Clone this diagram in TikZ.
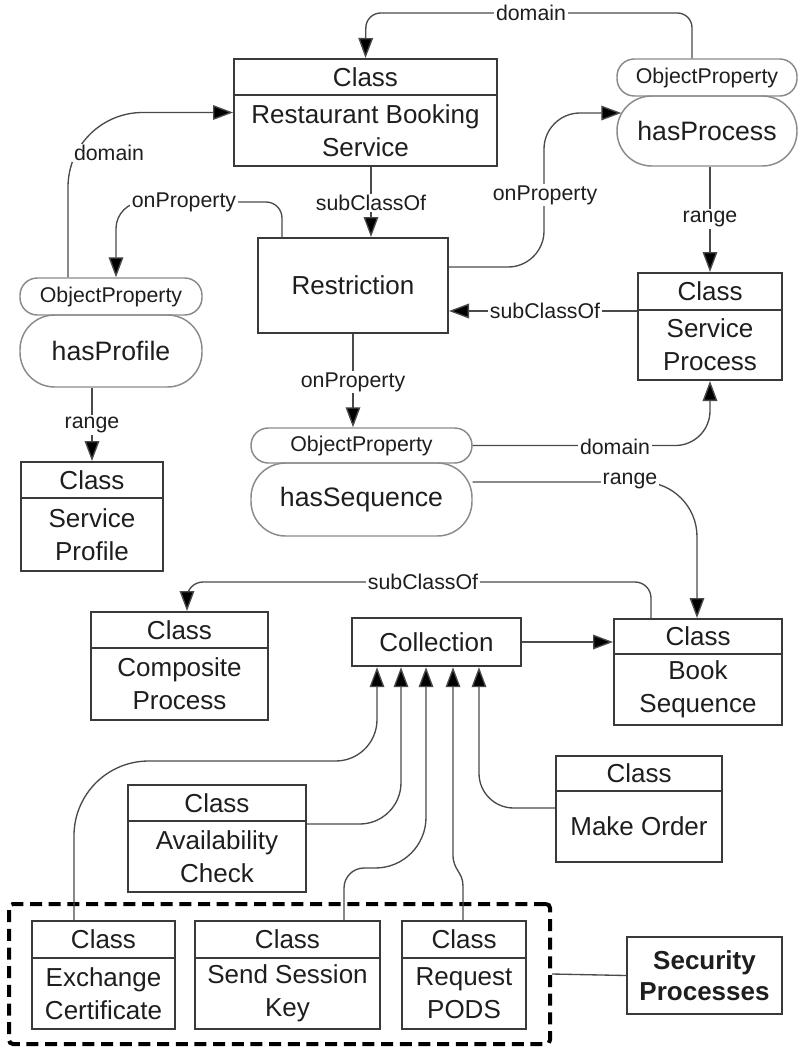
\documentclass[tikz,border=0pt]{standalone}
\usepackage{fontspec}
\setmainfont{Liberation Sans}
\usetikzlibrary{arrows.meta,fit,calc}

\definecolor{ink}{HTML}{1E1E1E}
\definecolor{edgec}{HTML}{3A3A3A}
\definecolor{linkc}{HTML}{4A4A4A}
\definecolor{pillc}{HTML}{8A8A8A}

\tikzset{
  txt/.style={font=\fontsize{19.5}{24.5}\selectfont, text=ink, align=center, inner sep=0pt},
  optxt/.style={font=\fontsize{16}{19}\selectfont, text=ink, inner sep=0pt},
  prtxt/.style={font=\fontsize{20}{24}\selectfont, text=ink, inner sep=0pt},
  clsframe/.style={draw=edgec, line width=1.5pt, inner sep=0pt},
  oppill/.style={draw=pillc, line width=1.1pt, inner sep=0pt, rounded corners=13pt},
  prpill/.style={draw=pillc, line width=1.1pt, inner sep=0pt, rounded corners=26pt},
  conn/.style={draw=linkc, line width=1pt},
  arrow/.style={conn, -{Triangle[length=15pt,width=11pt,fill=black]}},
  lbl/.style={font=\fontsize{16}{19}\selectfont, text=ink, fill=white, inner sep=1.2pt},
}

% class box: name, left, top, right, divider, bottom, class name
\newcommand{\classnode}[7]{%
  \node[clsframe, fit={(#2,#3) (#4,#6)}] (#1) {};
  \draw[clsframe] (#2,#5) -- (#4,#5);
  \node[txt] (#1-hd) at ({(#2+#4)/2},{(#3+#5)/2}) {Class};
  \node[txt] (#1-nm) at ({(#2+#4)/2},{(#5+#6)/2}) {#7};
}

\begin{document}
\begin{tikzpicture}[x=0.75pt, y=-0.75pt]
\useasboundingbox (0,0) rectangle (800,1052);

% ---- classes ----
\classnode{rbs}{234}{59}{497}{95}{166}{Restaurant Booking\\Service}
\classnode{sp}{638}{273}{782}{310}{380}{Service\\Process}
\classnode{sprof}{21}{462}{163}{498}{571}{Service\\Profile}
\classnode{comp}{91}{612}{268}{648}{720}{Composite\\Process}
\classnode{bseq}{614}{619}{782}{654}{725}{Book\\Sequence}
\classnode{avail}{128}{785}{306}{821}{892}{Availability\\Check}
\classnode{mko}{556}{756}{722}{791}{862}{Make Order}
\classnode{exc}{32}{921}{175}{958}{1029}{Exchange\\Certificate}
\classnode{ssk}{195}{921}{380}{958}{1029}{Send Session\\Key}
\classnode{pods}{402}{921}{526}{958}{1029}{Request\\PODS}

\node[clsframe, fit={(258,238) (448,333)}] (restr) {};
\node[txt] (restr-t) at (restr.center) {Restriction};
\node[clsframe, line width=1.8pt, fit={(352,618) (521,666)}] (coll) {};
\node[txt] (coll-t) at (coll.center) {Collection};

% ---- object properties ----
\node[oppill, fit={(617,59) (797,96)}] (hpOP) {};
\node[optxt] (hpOP-t) at (hpOP.center) {ObjectProperty};
\node[prpill, fit={(617,96) (797,166)}] (hpP) {};
\node[prtxt] (hpP-t) at (hpP.center) {hasProcess};
\node[oppill, fit={(20,278) (202,315)}] (pfOP) {};
\node[optxt] (pfOP-t) at (pfOP.center) {ObjectProperty};
\node[prpill, fit={(20,315) (202,387)}] (pfP) {};
\node[prtxt] (pfP-t) at (pfP.center) {hasProfile};
\node[oppill, fit={(251,428) (472,463)}] (sqOP) {};
\node[optxt] (sqOP-t) at (sqOP.center) {ObjectProperty};
\node[prpill, fit={(251,463) (472,536)}] (sqP) {};
\node[prtxt] (sqP-t) at (sqP.center) {hasSequence};

% ---- security group ----
\node[draw=black, line width=3pt, dash pattern=on 9pt off 5pt, rounded corners=3pt,
  inner sep=0pt, fit={(9,904) (550,1044)}] (secgrp) {};
\node[clsframe, fit={(627,937) (782,1014)}] (secp) {};
\node[txt, font=\fontsize{19.5}{23}\selectfont\bfseries] (secp-t) at (secp.center) {Security\\Processes};

% ---- connectors ----
\draw[arrow, rounded corners=11pt] (hpOP.north -| 692,0) -- (692,13) -- (366,13) -- (rbs.north);
\draw[arrow, rounded corners=56pt] (pfOP.north -| 68,0) |- (rbs.west);
\draw[arrow] (rbs.south -| 371,0) -- (restr.north -| 371,0);
\draw[arrow] (restr.north -| 282,0) [rounded corners=12pt] -- (282,202) [rounded corners=20pt] -- (116,202) -- (pfOP.north -| 116,0);
\draw[arrow, rounded corners=27pt] (restr.east |- 0,267) -- (544,267) -- (544,113) -- ($(hpP.west)+(5,-18)$);
\draw[arrow] (sp.west |- 0,311) -- (restr.east |- 0,311);
\draw[arrow] (hpP.south -| sp.north) -- (sp.north);
\draw[arrow] (pfP.south -| sprof.north) -- (sprof.north);
\draw[arrow] (restr.south -| 353,0) -- (sqOP.north -| 353,0);
\draw[arrow, rounded corners=26pt] (sqOP.east) -| (sp.south);
\draw[arrow, rounded corners=41pt] (sqP.east |- 0,482) -| (bseq.north -| 697,0);
\draw[arrow, rounded corners=12pt] (bseq.north -| 651,0) -- (651,582) -- (187,582) -- (comp.north -| 187,0);
\draw[arrow] (coll.east) -- (bseq.west |- coll.east);
\draw[arrow] (exc.north -| 74,0) [rounded corners=56pt] -- (74,761) [rounded corners=31pt] -- (377,761) -- (coll.south -| 377,0);
\draw[arrow, rounded corners=31pt] (avail.east |- 0,824) -| (coll.south -| 401,0);
\draw[arrow] (ssk.north -| 344,0) [rounded corners=15pt] -- (344,868) [rounded corners=38pt] -- (426,868) -- (coll.south -| 426,0);
\draw[arrow] (pods.north -| 463,0) -- (463,886) .. controls (463,872) and (453,870) .. (453,855) -- (coll.south -| 453,0);
\draw[arrow, rounded corners=26pt] (mko.west |- 0,808) -| (coll.south -| 479,0);
\draw[conn] (secgrp.east) -- (secp.west);

% ---- connector labels ----
\node[lbl] (lDomTop) at (531,13) {domain};
\node[lbl] (lDomPf) at (109,153) {domain};
\node[lbl] (lSubRbs) at (371,203) {subClassOf};
\node[lbl] (lOnPf) at (184,202) {onProperty};
\node[lbl] (lOnHp) at (545,195) {onProperty};
\node[lbl] (lSubSp) at (545,311) {subClassOf};
\node[lbl] (lRngHp) at (710,219) {range};
\node[lbl] (lRngPf) at (92,425) {range};
\node[lbl] (lOnSq) at (353,382) {onProperty};
\node[lbl] (lDomSq) at (615,447) {domain};
\node[lbl] (lRngSq) at (630,481) {range};
\node[lbl] (lSubBs) at (423,582) {subClassOf};
\end{tikzpicture}
\end{document}
